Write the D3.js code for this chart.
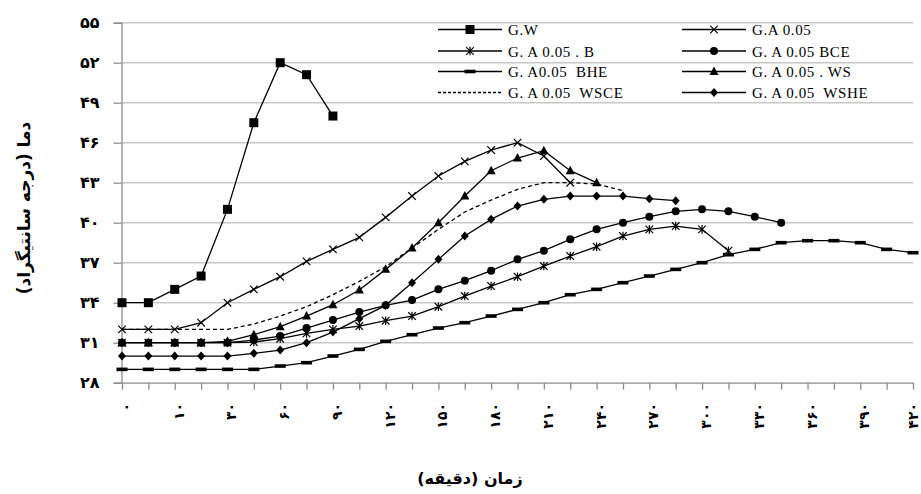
<!DOCTYPE html>
<meta charset="utf-8">
<html>
<head>
<title>temperature vs time</title>
<style>
body { margin: 0; background: #fff; }
svg text.fa { font-family: "DejaVu Sans", sans-serif; fill: #000; }
svg text.lg { font-family: "Liberation Serif", serif; font-size: 15px; letter-spacing: 0.6px; }
.grid line { stroke: #c8c8c8; stroke-width: 1.4; }
</style>
</head>
<body>
<svg class="chart" width="921" height="494"></svg>

<script src="https://cdn.jsdelivr.net/npm/d3@7/dist/d3.min.js"></script>
<script>

// x categories: 31 points, every other one labelled (minutes)
const xLabels = ["0","10","30","60","90","120","150","180","210","240","270","300","330","360","390","420"]
const pointCount = 31
const yTicks = [28,31,34,37,40,43,46,49,52,55]

const gw     = [34,34,35,36,41,47.5,52,51.1,48]
const ga     = [32,32,32,32.5,34,35,35.95,37.1,38,38.9,40.4,42,43.5,44.6,45.45,46,45,43]
const gaB    = [31,31,31,31,31,31.05,31.3,31.7,32,32.25,32.65,33,33.7,34.5,35.25,35.95,36.75,37.5,38.2,39,39.5,39.75,39.5,37.9]
const gaBCE  = [31,31,31,31,31,31.2,31.5,32.1,32.7,33.3,33.8,34.2,35,35.65,36.4,37.25,37.9,38.75,39.5,40,40.45,40.85,41,40.85,40.45,40]
const gaBHE  = [29,29,29,29,29,29,29.25,29.5,30,30.5,31.1,31.6,32.1,32.5,33,33.5,34,34.6,35,35.5,36,36.5,37,37.6,38,38.5,38.65,38.65,38.5,38,37.75]
const gaWS   = [31,31,31,31,31.1,31.6,32.2,33,33.85,34.95,36.5,38.1,40,42,43.9,44.85,45.4,43.9,43]
const gaWSCE = [32,32,32,32,32,32.4,33,33.7,34.6,35.6,36.7,38.1,39.5,40.8,41.7,42.5,43,43,42.9,42.4]
const gaWSHE = [30,30,30,30,30,30.2,30.45,31,31.8,32.8,33.8,35.5,37.25,39,40.25,41.25,41.75,42,42,42,41.8,41.65]

const seriesNames = ["G.W","G.A 0.05","G. A 0.05 . B","G. A 0.05 BCE","G. A0.05  BHE","G. A 0.05 . WS","G. A 0.05  WSCE","G. A 0.05  WSHE"]
const seriesMarks = ["square","cross","star","circle","dash","triangle","none","diamond"]
const seriesData  = [gw, ga, gaB, gaBCE, gaBHE, gaWS, gaWSCE, gaWSHE]

const faDigits = "۰۱۲۳۴۵۶۷۸۹"
function fa(s) { return String(s).replace(/[0-9]/g, (c) => faDigits[+c]) }

const svg = d3.select("svg.chart")
const plotLeft = 122, plotRight = 913, plotTop = 22.7, plotBottom = 382.7

const x = d3.scalePoint().domain(d3.range(pointCount)).range([plotLeft, plotRight])
const y = d3.scaleLinear().domain([28, 55]).range([plotBottom, plotTop])

// grid
svg.append("g").attr("class", "grid")
  .selectAll("line").data(yTicks.slice(1)).enter().append("line")
  .attr("x1", plotLeft).attr("x2", plotRight)
  .attr("y1", (d) => y(d)).attr("y2", (d) => y(d))

// axes
const yAxis = svg.append("g")
  .attr("transform", "translate(" + (plotLeft - 0.5) + ",0)")
  .call(d3.axisLeft(y).tickValues(yTicks).tickSize(8).tickPadding(14).tickFormat((d) => fa(d)))
yAxis.selectAll("path, line").attr("stroke", "#8c8c8c").attr("stroke-width", 1.3)
yAxis.selectAll("text").attr("class", "fa").style("font-size", "16px").style("font-weight", "bold")

const xAxis = svg.append("g")
  .attr("transform", "translate(0," + plotBottom + ")")
  .call(d3.axisBottom(x).tickSize(7).tickSizeOuter(0).tickFormat(""))
xAxis.selectAll("path, line").attr("stroke", "#8c8c8c").attr("stroke-width", 1.3)

// rotated labels, the last one kept inside the page edge
svg.append("g").selectAll("text").data(xLabels).enter().append("text")
  .attr("class", "fa")
  .attr("transform", (d, i) => "translate(" + Math.min(x(i * 2) + 4, 913) + ",403) rotate(-90)")
  .attr("text-anchor", "end")
  .attr("dominant-baseline", "central")
  .style("font-size", "14px")
  .style("font-weight", "bold")
  .text((d) => fa(d))

// axis titles
svg.append("text").attr("class", "fa")
  .attr("transform", "translate(24,208) rotate(-90)")
  .attr("text-anchor", "middle")
  .attr("dominant-baseline", "central")
  .style("font-size", "17px").style("font-weight", "bold")
  .text("دما (درجه سانتیگراد)")

svg.append("text").attr("class", "fa")
  .attr("x", 470).attr("y", 484)
  .attr("text-anchor", "middle")
  .style("font-size", "16px").style("font-weight", "bold")
  .text("زمان (دقیقه)")

// markers
function drawMark(g, type, cx, cy) {
  if (type == "square") {
    g.append("rect").attr("x", cx - 4.5).attr("y", cy - 4.5).attr("width", 9).attr("height", 9).attr("fill", "#000")
  } else if (type == "circle") {
    g.append("circle").attr("cx", cx).attr("cy", cy).attr("r", 4).attr("fill", "#000")
  } else if (type == "triangle") {
    g.append("path").attr("d", "M" + cx + "," + (cy - 5) + "L" + (cx + 4.5) + "," + (cy + 3.5) + "L" + (cx - 4.5) + "," + (cy + 3.5) + "Z").attr("fill", "#000")
  } else if (type == "diamond") {
    g.append("path").attr("d", "M" + cx + "," + (cy - 4.5) + "L" + (cx + 4) + "," + cy + "L" + cx + "," + (cy + 4.5) + "L" + (cx - 4) + "," + cy + "Z").attr("fill", "#000")
  } else if (type == "dash") {
    g.append("rect").attr("x", cx - 5.5).attr("y", cy - 1.8).attr("width", 11).attr("height", 3.6).attr("fill", "#000")
  } else if (type == "cross" || type == "star") {
    const r = 3.8
    g.append("path")
      .attr("d", "M" + (cx - r) + "," + (cy - r) + "L" + (cx + r) + "," + (cy + r) + "M" + (cx - r) + "," + (cy + r) + "L" + (cx + r) + "," + (cy - r) +
        (type == "star" ? "M" + cx + "," + (cy - r - 0.5) + "L" + cx + "," + (cy + r + 0.5) : ""))
      .attr("stroke", "#000").attr("stroke-width", 1.2).attr("fill", "none")
  }
}

const line = d3.line().x((d, i) => x(i)).y((d) => y(d))

seriesData.forEach((vals, k) => {
  const g = svg.append("g")
  g.append("path")
    .attr("d", line(vals))
    .attr("fill", "none")
    .attr("stroke", "#000")
    .attr("stroke-width", 1.3)
    .attr("stroke-dasharray", seriesMarks[k] == "none" ? "4,3" : null)
  vals.forEach((v, i) => drawMark(g, seriesMarks[k], x(i), y(v)))
})

// legend, two columns
const legend = svg.append("g")
seriesNames.forEach((name, k) => {
  const col = k % 2, row = Math.floor(k / 2)
  const lx = col == 0 ? 438 : 682
  const ly = [29.5, 51, 71.5, 92.5][row]
  const g = legend.append("g")
  g.append("line")
    .attr("x1", lx).attr("x2", lx + 64).attr("y1", ly).attr("y2", ly)
    .attr("stroke", "#000").attr("stroke-width", 1.3)
    .attr("stroke-dasharray", seriesMarks[k] == "none" ? "3,2" : null)
  drawMark(g, seriesMarks[k], lx + 32, ly)
  g.append("text").attr("class", "lg")
    .attr("x", lx + 70).attr("y", ly + 5.5)
    .attr("xml:space", "preserve")
    .style("white-space", "pre")
    .text(name)
})

</script>
</body>
</html>
